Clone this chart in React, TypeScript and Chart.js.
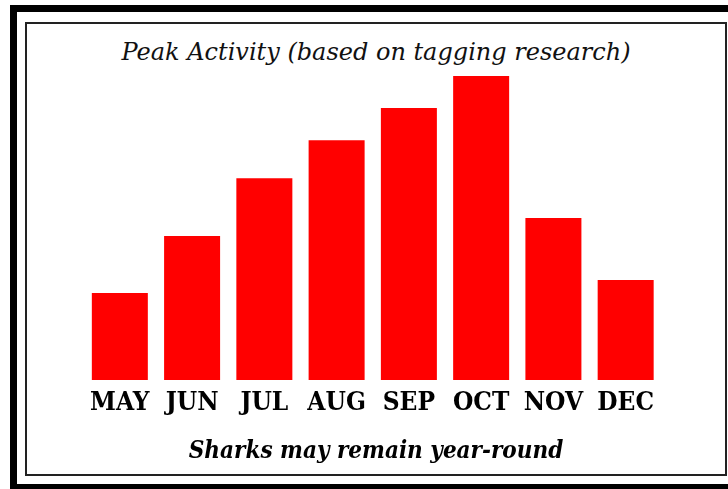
import React, { useEffect, useRef } from "react";
import { Chart, registerables } from "chart.js";

Chart.register(...registerables);

const months = ["MAY", "JUN", "JUL", "AUG", "SEP", "OCT", "NOV", "DEC"];
const activity = [28.6, 47.4, 66.4, 78.9, 89.5, 100, 53.3, 32.9];
const titleText = "Peak Activity (based on tagging research)";
const footerText = "Sharks may remain year-round";

export default function App() {
  const ref = useRef<HTMLCanvasElement | null>(null);

  useEffect(() => {
    if (!ref.current) return;
    const chart = new Chart(ref.current, {
      type: "bar",
      data: {
        labels: months,
        datasets: [
          {
            data: activity,
            backgroundColor: "#ff0000",
            borderWidth: 0,
            categoryPercentage: 1,
            barPercentage: 0.775,
          },
        ],
      },
      options: {
        responsive: false,
        animation: false,
        devicePixelRatio: 1,
        layout: { padding: { left: 83.7, right: 66.2, top: 76, bottom: 69 } },
        plugins: { legend: { display: false }, tooltip: { enabled: false }, title: { display: false } },
        scales: {
          x: {
            grid: { display: false, drawTicks: false },
            border: { display: false },
            ticks: {
              color: "#000",
              padding: 8,
              font: { family: "'DejaVu Serif Condensed', 'DejaVu Serif'", weight: "bold", size: 26 },
            },
            afterFit: (axis: any) => {
              axis.height = 40;
            },
          },
          y: { display: false, min: 0, max: 100 },
        },
      },
    });
    return () => chart.destroy();
  }, []);

  return (
    <div style={{ position: "fixed", left: 0, top: 0, width: 728, height: 489, overflow: "hidden", background: "#fff" }}>
      <div
        style={{
          position: "absolute",
          left: 10,
          top: 5,
          width: 760,
          height: 486,
          boxSizing: "border-box",
          border: "7px solid #000",
        }}
      />
      <div
        style={{
          position: "absolute",
          left: 25,
          top: 22,
          width: 702,
          height: 454,
          boxSizing: "border-box",
          border: "2px solid #222",
          background: "#fff",
        }}
      />
      <div
        style={{
          position: "absolute",
          left: 25,
          top: 40,
          width: 702,
          textAlign: "center",
          fontFamily: "'DejaVu Serif'",
          fontStyle: "italic",
          fontSize: 24,
          lineHeight: "24px",
          color: "#111",
          whiteSpace: "nowrap",
        }}
      >
        {titleText}
      </div>
      <canvas ref={ref} width={728} height={489} style={{ position: "absolute", left: 0, top: 0, width: 728, height: 489 }} />
      <div
        style={{
          position: "absolute",
          left: 25,
          top: 438,
          width: 702,
          textAlign: "center",
          fontFamily: "'DejaVu Serif Condensed', 'DejaVu Serif'",
          fontStyle: "italic",
          fontWeight: "bold",
          fontSize: 24,
          lineHeight: "24px",
          color: "#000",
          whiteSpace: "nowrap",
        }}
      >
        {footerText}
      </div>
    </div>
  );
}
